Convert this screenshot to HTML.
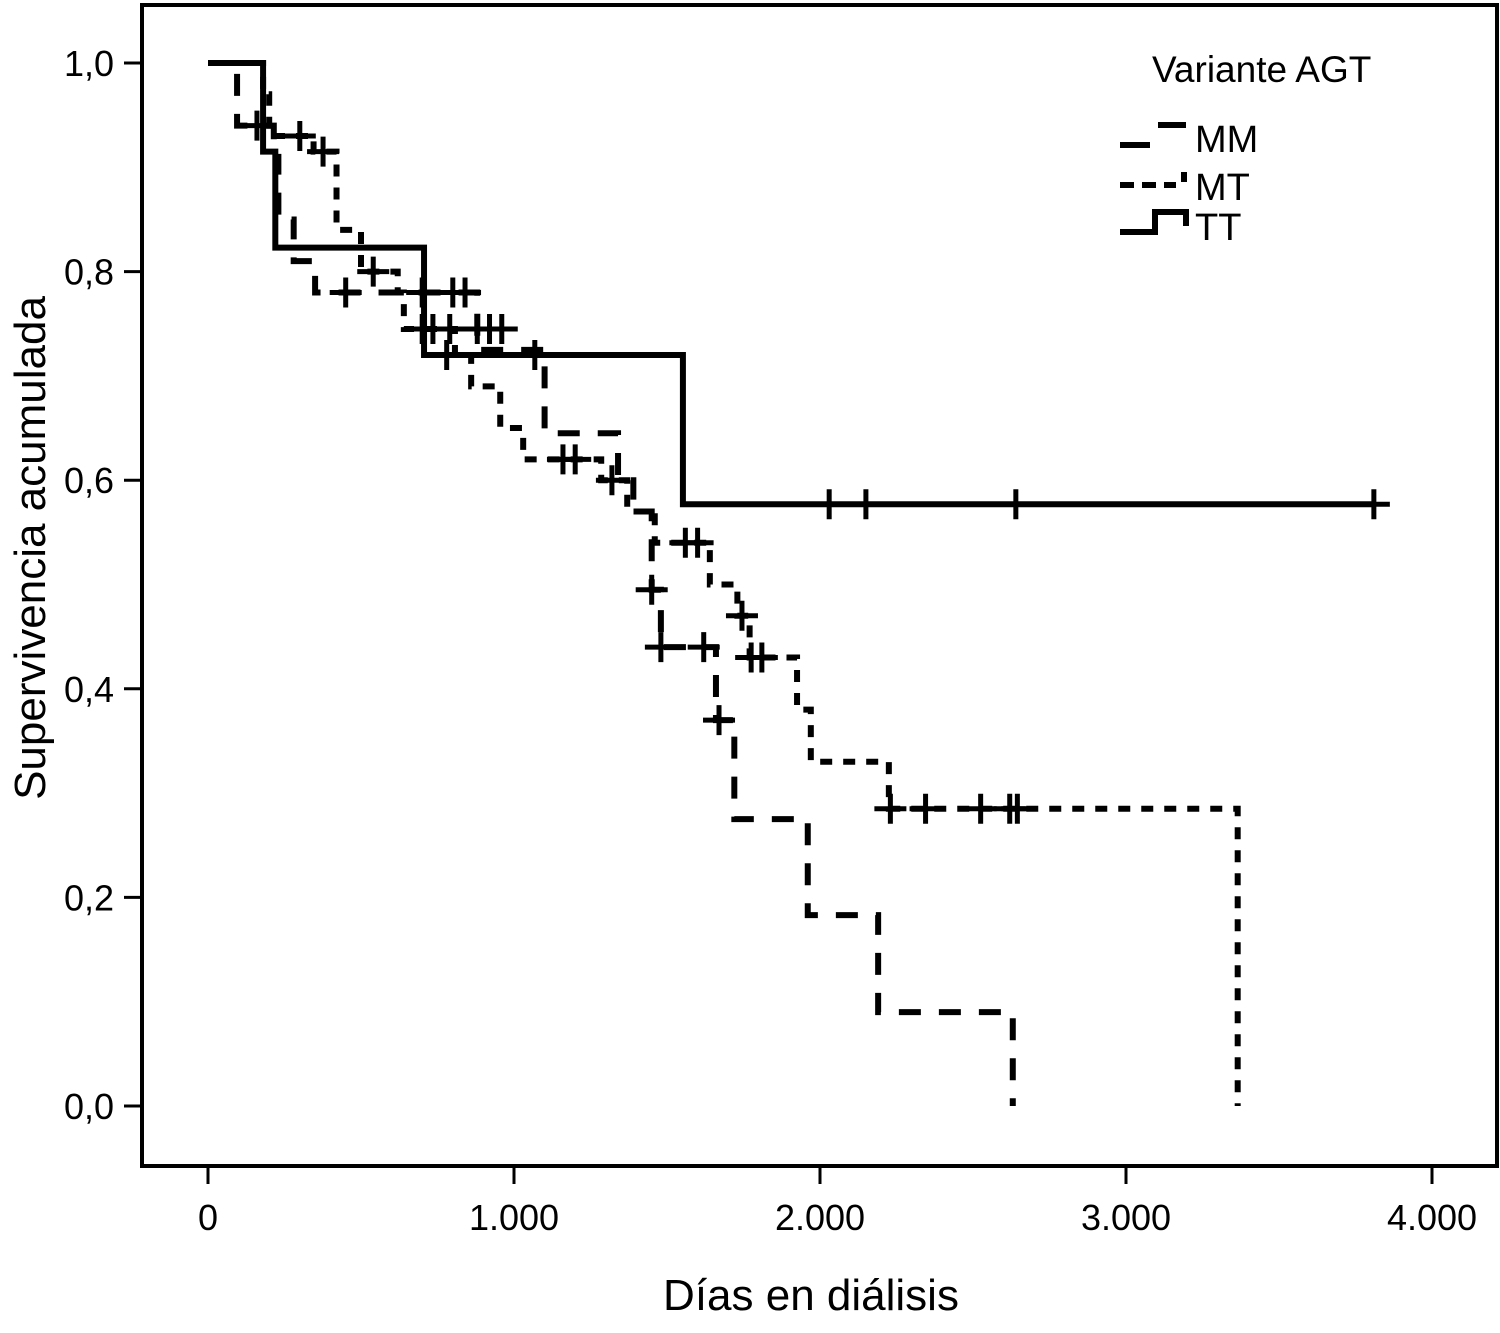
<!DOCTYPE html>
<html><head><meta charset="utf-8"><style>
html,body{margin:0;padding:0;background:#fff}
svg{display:block;font-family:"Liberation Sans",Arial,sans-serif}
</style></head><body>
<svg id="chart" width="1500" height="1333" viewBox="0 0 1500 1333">
<rect x="142" y="5" width="1355" height="1161" fill="none" stroke="#000" stroke-width="4"/>
<g id="axes"></g>
<g id="series"></g>
<text x="811" y="1310" font-size="44" text-anchor="middle">Días en diálisis</text>
<text transform="translate(45,548) rotate(-90)" font-size="44" text-anchor="middle">Supervivencia acumulada</text>
<g>
<text x="1152" y="82" font-size="37">Variante AGT</text>
<g><path d="M1120 145 H1150 M1158 125 H1186" stroke="#000" stroke-width="6" fill="none"/><text x="1195" y="152" font-size="38">MM</text></g>
<g><path d="M1120 185 H1134 M1142 185 H1156 M1164 185 H1176 M1184 172 V182" stroke="#000" stroke-width="6" fill="none"/><text x="1195" y="200" font-size="38">MT</text></g>
<g><path d="M1120 232 H1155 V212 H1186 V226" stroke="#000" stroke-width="6" fill="none"/><text x="1195" y="240" font-size="38">TT</text></g>
</g>
</svg>
<script>
const xTicks = [0, 1000, 2000, 3000, 4000];
const xTickLabels = ["0", "1.000", "2.000", "3.000", "4.000"];
const yTicks = [0, 0.2, 0.4, 0.6, 0.8, 1.0];
const yTickLabels = ["0,0", "0,2", "0,4", "0,6", "0,8", "1,0"];

const ttTimes = [0, 180, 220, 706, 1552];
const ttSurv = [1.0, 0.915, 0.823, 0.72, 0.577];
const ttEnd = 3810;
const ttCensorT = [780, 1068, 2030, 2150, 2640, 3810];
const ttCensorS = [0.72, 0.72, 0.577, 0.577, 0.577, 0.577];

const mmTimes = [0, 95, 215, 230, 280, 350, 880, 1100, 1340, 1390, 1450, 1480, 1660, 1720, 1960, 2190, 2630];
const mmSurv = [1.0, 0.94, 0.91, 0.85, 0.81, 0.78, 0.725, 0.645, 0.60, 0.57, 0.495, 0.44, 0.37, 0.275, 0.183, 0.09, 0.0];
const mmEnd = 2630;
const mmCensorT = [160, 450, 700, 800, 840, 1450, 1480, 1620, 1670];
const mmCensorS = [0.94, 0.78, 0.78, 0.78, 0.78, 0.495, 0.44, 0.44, 0.37];

const mtTimes = [0, 180, 200, 345, 420, 500, 620, 640, 807, 860, 955, 1030, 1285, 1370, 1460, 1640, 1730, 1770, 1925, 1970, 2225, 3365];
const mtSurv = [1.0, 0.97, 0.93, 0.915, 0.84, 0.80, 0.78, 0.745, 0.72, 0.69, 0.65, 0.62, 0.60, 0.57, 0.54, 0.50, 0.47, 0.43, 0.38, 0.33, 0.285, 0.0];
const mtEnd = 3365;
const mtCensorT = [300, 376, 540, 700, 735, 790, 880, 920, 960, 1160, 1200, 1320, 1560, 1600, 1745, 1775, 1810, 2230, 2345, 2525, 2620, 2645];
const mtCensorS = [0.93, 0.915, 0.80, 0.745, 0.745, 0.745, 0.745, 0.745, 0.745, 0.62, 0.62, 0.60, 0.54, 0.54, 0.47, 0.43, 0.43, 0.285, 0.285, 0.285, 0.285, 0.285];

const NS = "http://www.w3.org/2000/svg";
function xs(d){ return 208 + d * 0.306; }
function ys(s){ return 1106 - s * 1043; }

const axes = document.getElementById('axes');
xTicks.forEach((t, i) => {
  const l = document.createElementNS(NS, 'line');
  l.setAttribute('x1', xs(t)); l.setAttribute('x2', xs(t));
  l.setAttribute('y1', 1166); l.setAttribute('y2', 1184);
  l.setAttribute('stroke', '#000'); l.setAttribute('stroke-width', 3);
  
  
  axes.appendChild(l);
  const tx = document.createElementNS(NS, 'text');
  tx.setAttribute('x', xs(t)); tx.setAttribute('y', 1230);
  tx.setAttribute('font-size', 36); tx.setAttribute('text-anchor', 'middle');
  tx.textContent = xTickLabels[i];
  
  
  axes.appendChild(tx);
});
yTicks.forEach((t, i) => {
  const l = document.createElementNS(NS, 'line');
  l.setAttribute('x1', 124); l.setAttribute('x2', 142);
  l.setAttribute('y1', ys(t)); l.setAttribute('y2', ys(t));
  l.setAttribute('stroke', '#000'); l.setAttribute('stroke-width', 3);
  
  
  axes.appendChild(l);
  const tx = document.createElementNS(NS, 'text');
  tx.setAttribute('x', 114); tx.setAttribute('y', ys(t) + 13);
  tx.setAttribute('font-size', 36); tx.setAttribute('text-anchor', 'end');
  tx.textContent = yTickLabels[i];
  
  
  axes.appendChild(tx);
});

const series = document.getElementById('series');
function drawSeries(name, times, surv, end, cT, cS, dash){
  const g = document.createElementNS(NS, 'g');
  
  
  let d = 'M' + xs(times[0]) + ' ' + ys(surv[0]);
  for (let i = 1; i < times.length; i++) {
    d += ' H' + xs(times[i]) + ' V' + ys(surv[i]);
  }
  d += ' H' + xs(end);
  const p = document.createElementNS(NS, 'path');
  p.setAttribute('d', d); p.setAttribute('fill', 'none');
  p.setAttribute('stroke', '#000'); p.setAttribute('stroke-width', 6);
  if (dash) p.setAttribute('stroke-dasharray', dash);
  
  
  g.appendChild(p);
  cT.forEach((t, i) => {
    const c = document.createElementNS(NS, 'path');
    const x = xs(t), y = ys(cS[i]);
    c.setAttribute('d', 'M' + (x - 16) + ' ' + y + ' H' + (x + 16) + ' M' + x + ' ' + (y - 15) + ' V' + (y + 15));
    c.setAttribute('stroke', '#000'); c.setAttribute('stroke-width', 5);
    
    
    g.appendChild(c);
  });
  series.appendChild(g);
}
drawSeries('series-tt', ttTimes, ttSurv, ttEnd, ttCensorT, ttCensorS, null);
drawSeries('series-mm', mmTimes, mmSurv, mmEnd, mmCensorT, mmCensorS, '22 18');
drawSeries('series-mt', mtTimes, mtSurv, mtEnd, mtCensorT, mtCensorS, '12 11');
</script>
</body></html>
